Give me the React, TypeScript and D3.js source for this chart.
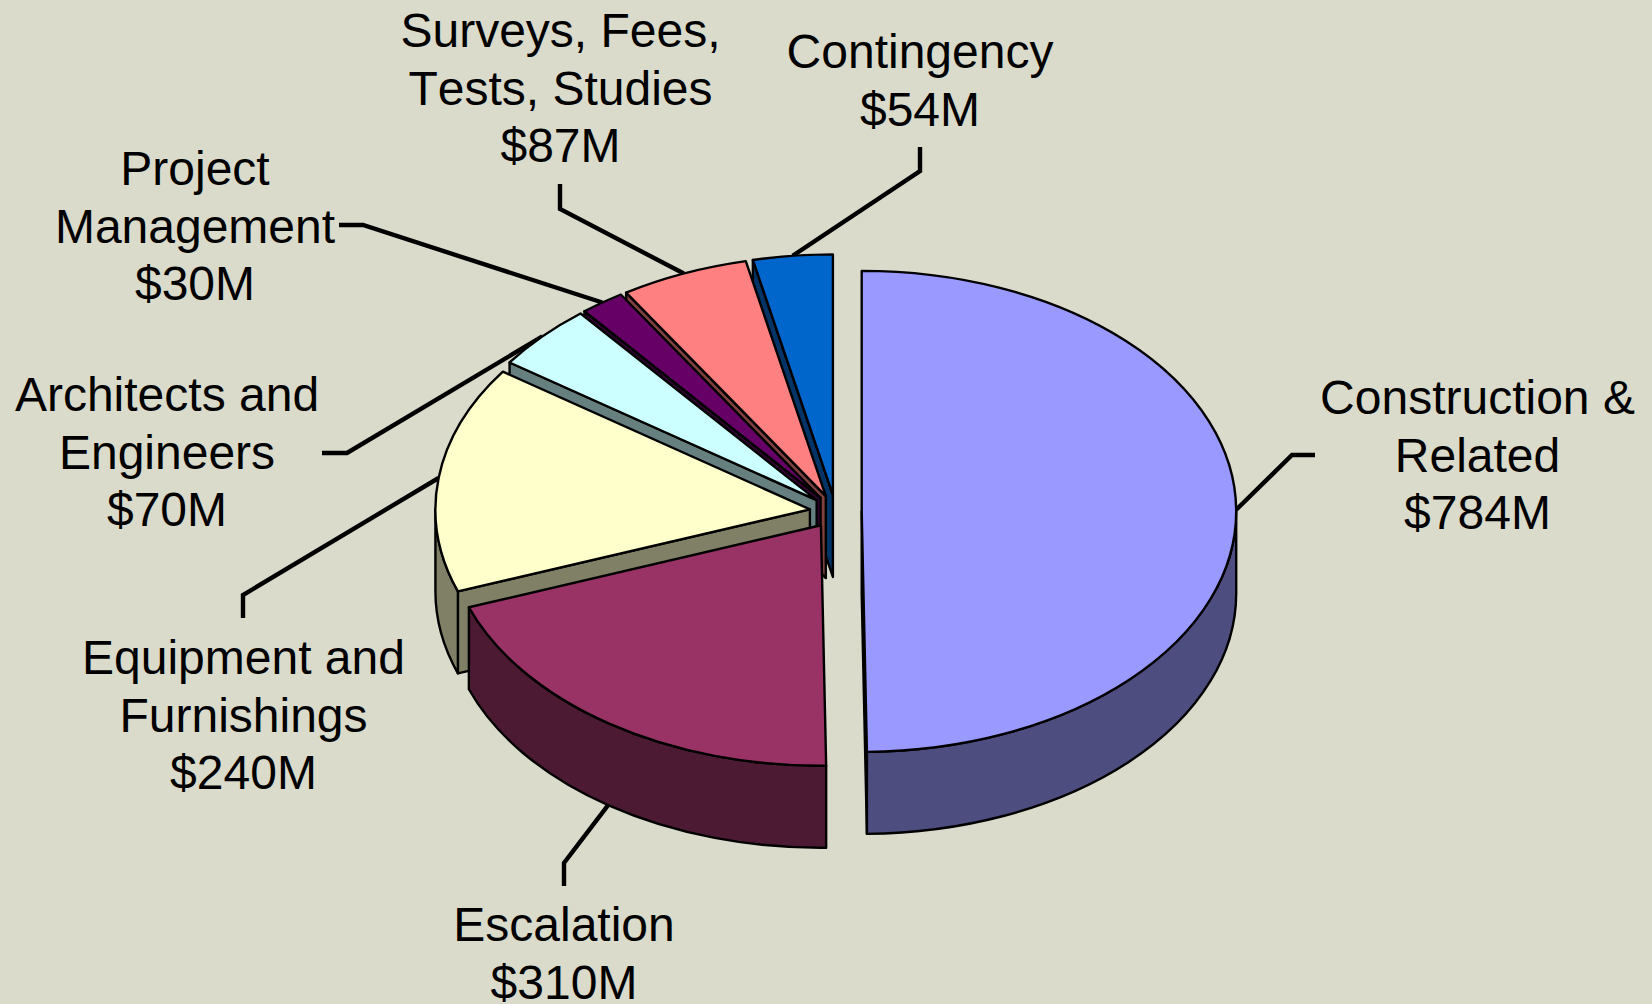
import React from "react";
import * as d3 from "d3";

const categories = ["Construction & Related", "Escalation", "Equipment and Furnishings", "Architects and Engineers", "Project Management", "Surveys, Fees, Tests, Studies", "Contingency"];
const values = [784, 310, 240, 70, 30, 87, 54];
const topColors = ["#9999FF", "#993366", "#FFFFCC", "#CCFFFF", "#660066", "#FF8080", "#0066CC"];
const sideColors = ["#4D4D80", "#4D1A33", "#808066", "#668080", "#330033", "#804040", "#003366"];
const labelLines = [
  ["Construction &", "Related", "$784M"],
  ["Escalation", "$310M"],
  ["Equipment and", "Furnishings", "$240M"],
  ["Architects and", "Engineers", "$70M"],
  ["Project", "Management", "$30M"],
  ["Surveys, Fees,", "Tests, Studies", "$87M"],
  ["Contingency", "$54M"],
];
// layout of labels: centre x, first baseline
const labelPos: [number, number][] = [[1477.5, 414], [564, 941], [243.5, 674], [167, 411], [195, 185], [560.5, 47], [920, 68]];
// leader-line elbows
const elbows: [number, number][][] = [
  [[1292, 455], [1315, 455]],
  [[564, 863], [564, 886]],
  [[243, 595], [243, 618]],
  [[347, 453], [322, 453]],
  [[363, 225], [339, 225]],
  [[560, 209], [560, 184]],
  [[920, 171], [920, 147]],
];
const drawOrder = [6, 5, 4, 3, 2, 1, 0];

const W = 1652, H = 1004;
const CX = 835.7, CY = 511.5, RX = 374.5, RY = 240.5, DEPTH = 82, EXPLODE = 26;
const LINE = 57.5;
const BG = "#DADBCB";

export default function App() {
  const arcs = d3.pie<number>().sort(null).value((d) => d)(values);
  const px = d3.scaleLinear().domain([-1, 1]).range([-RX, RX]);
  const py = d3.scaleLinear().domain([-1, 1]).range([-RY, RY]);

  const slices = arcs.map((a, i) => {
    const mid = (a.startAngle + a.endAngle) / 2;
    const cx = CX + px(Math.sin(mid)) * (EXPLODE / RX);
    const cy = CY + py(-Math.cos(mid)) * (EXPLODE / RX);
    const pt = (ang: number, dy = 0): [number, number] => [cx + px(Math.sin(ang)), cy + py(-Math.cos(ang)) + dy];
    const arcTo = (ang: number, sweep: number, dy = 0) => {
      const [x, y] = pt(ang, dy);
      return `A${RX} ${RY} 0 0 ${sweep} ${x} ${y}`;
    };
    const s = pt(a.startAngle), e = pt(a.endAngle);
    const large = a.endAngle - a.startAngle > Math.PI ? 1 : 0;
    const top = `M${cx} ${cy}L${s[0]} ${s[1]}A${RX} ${RY} 0 ${large} 1 ${e[0]} ${e[1]}Z`;
    const walls: string[] = [];
    const wallFor = (ang: number) => {
      const p = pt(ang), q = pt(ang, DEPTH);
      return `M${cx} ${cy}L${p[0]} ${p[1]}L${q[0]} ${q[1]}L${cx} ${cy + DEPTH}Z`;
    };
    if (Math.sin(a.endAngle) > 1e-6) walls.push(wallFor(a.endAngle));
    if (Math.sin(a.startAngle) < -1e-6) walls.push(wallFor(a.startAngle));
    const lo = Math.max(a.startAngle, Math.PI / 2), hi = Math.min(a.endAngle, (3 * Math.PI) / 2);
    if (hi > lo) {
      const p = pt(lo);
      walls.push(`M${p[0]} ${p[1]}${arcTo(hi, 1)}L${pt(hi, DEPTH).join(" ")}${arcTo(lo, 0, DEPTH)}Z`);
    }
    const frontFacing = mid > Math.PI / 2 && mid < (3 * Math.PI) / 2 && i === 1;
    const anchor = pt(mid, frontFacing ? DEPTH : 0);
    const leader = d3.line()([anchor, ...elbows[i]]) as string;
    return { top, walls, leader, i };
  });

  return (
    <svg
      width={W}
      height={H}
      viewBox={`0 0 ${W} ${H}`}
      style={{ position: "fixed", left: 0, top: 0, background: BG, display: "block" }}
    >
      <rect width={W} height={H} fill={BG} />
      <g fill="none" stroke="#000" strokeWidth={4.4} strokeLinejoin="miter">
        {slices.map((s) => (
          <path key={s.i} d={s.leader} />
        ))}
      </g>
      {drawOrder.map((i) => (
        <g key={i} stroke="#000" strokeWidth={2.4} strokeLinejoin="round">
          {slices[i].walls.map((d, k) => (
            <path key={k} d={d} fill={sideColors[i]} />
          ))}
          <path d={slices[i].top} fill={topColors[i]} />
        </g>
      ))}
      <g fontFamily="'Liberation Sans', Arial, sans-serif" fontSize={48} fill="#000" textAnchor="middle" style={{ fontKerning: "none" }}>
        {labelLines.map((lines, i) => (
          <text key={categories[i]} x={labelPos[i][0]} y={labelPos[i][1]}>
            {lines.map((t, k) => (
              <tspan key={k} x={labelPos[i][0]} y={labelPos[i][1] + k * LINE}>
                {t}
              </tspan>
            ))}
          </text>
        ))}
      </g>
    </svg>
  );
}
